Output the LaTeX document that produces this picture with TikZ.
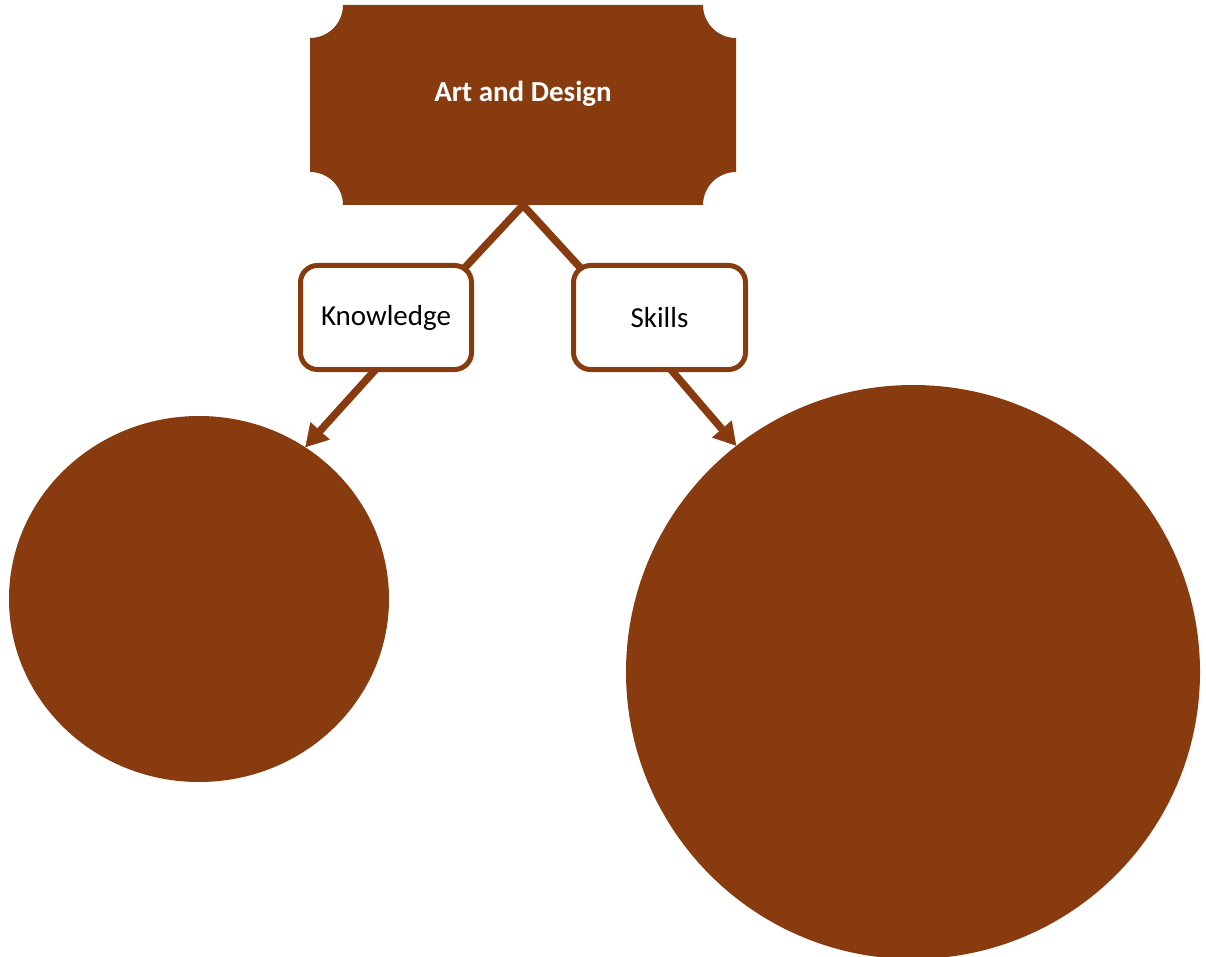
\documentclass[tikz,border=0pt]{standalone}
\usepackage{fontspec}
\setmainfont{Carlito}
\usetikzlibrary{shapes.geometric,arrows.meta,calc,backgrounds}
\definecolor{brown1}{RGB}{135,59,14}
\tikzset{
  conn/.style={draw=brown1, line width=7.5pt},
  arr/.style={conn, -{Triangle[length=22pt,width=26pt,line width=0.5pt]}},
  lbox/.style={draw=brown1, line width=5pt, fill=white, rounded corners=17pt,
    minimum width=171pt, minimum height=104pt, inner sep=0pt,
    font=\fontsize{29}{35}\selectfont},
  blob/.style={fill=brown1, inner sep=0pt}
}
\begin{document}
\begin{tikzpicture}[x=1pt,y=1pt,yscale=-1]
\useasboundingbox (0,0) rectangle (1206,957);
% top box shape
\fill[brown1] (343,5) -- (703,5) arc[start angle=180,end angle=90,radius=33]
  -- (736,172) arc[start angle=270,end angle=180,radius=33]
  -- (343,205) arc[start angle=0,end angle=-90,radius=33]
  -- (310,38) arc[start angle=90,end angle=0,radius=33] -- cycle;
\node[minimum width=426pt, minimum height=200pt, inner sep=0pt] (top) at (523,105) {};
\node[text=white, font=\fontsize{29}{35}\selectfont\bfseries] (toplabel) at (523,94) {Art and Design};
\node[lbox] (kn) at (386,317.5) {Knowledge};
\node[lbox, minimum width=172pt] (sk) at (659.5,317.5) {Skills};
\node[blob, ellipse, minimum width=380pt, minimum height=366pt] (le) at (199,599) {};
\node[blob, circle, minimum size=574pt] (rc) at (913,672) {};
\begin{scope}[on background layer]
\fill[white] (0,0) rectangle (1206,957);
\draw[conn] ($(kn.north east)+(-16,12)$) -- (top.south) -- ($(sk.north west)+(16,12)$);
\draw[arr] ($(kn.south)+(-9,-4)$) -- (le.55);
\draw[arr] ($(sk.south)+(10,-4)$) -- (rc.128);
\end{scope}
\end{tikzpicture}
\end{document}
